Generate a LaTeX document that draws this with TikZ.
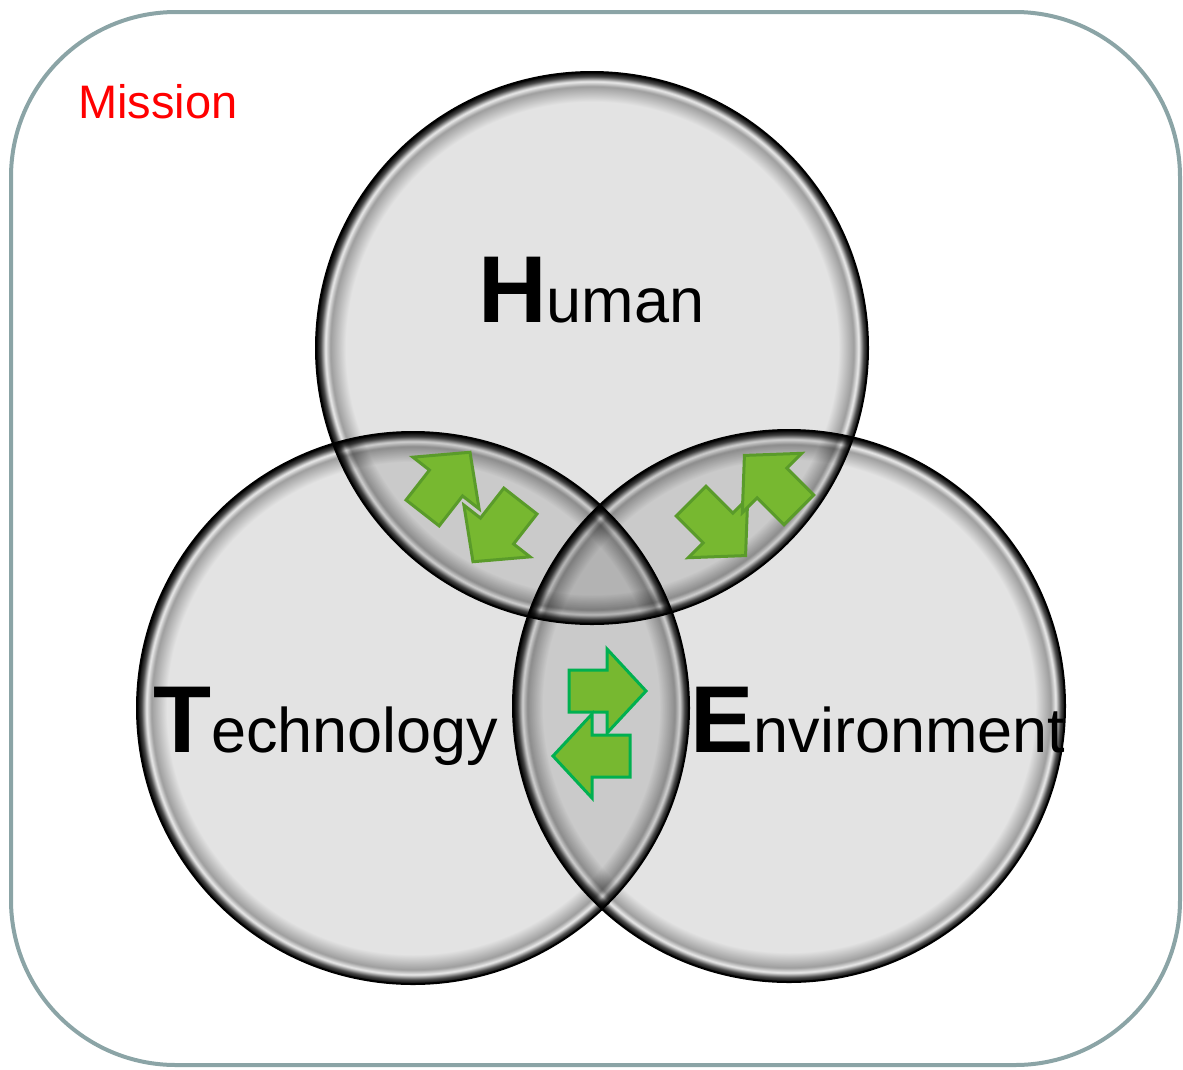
\documentclass[tikz,border=0pt]{standalone}
\usepackage{fontspec}
\setmainfont{Liberation Sans}
\usepackage{tikz}

\definecolor{framegray}{RGB}{139,164,166}
\definecolor{bubblegray}{gray}{0.89}
\definecolor{leafgreen}{RGB}{119,184,48}
\definecolor{darkleaf}{RGB}{90,155,42}
\definecolor{brightleaf}{RGB}{0,176,80}

\pgfdeclareradialshading{bubble}{\pgfpoint{0bp}{0bp}}{%
  color(0bp)=(bubblegray); color(22.3bp)=(bubblegray); color(23.7bp)=(black!38);
  color(24.15bp)=(white!92!black); color(24.6bp)=(black!72);
  color(25bp)=(black); color(50bp)=(black)}

\newcommand{\initial}[1]{{\fontsize{95}{95}\selectfont\bfseries #1}}
\newcommand{\swaparrow}[3][]{%
  \begin{scope}[shift={#2},rotate=#3]
    \draw[#1] (-38,-21) -- (0,-21) -- (0,-42) -- (39,0) -- (0,42) -- (0,21) -- (-38,21) -- cycle;
  \end{scope}}

\tikzset{
  word/.style={anchor=base west, inner sep=0, font=\fontsize{63}{63}\selectfont},
  toparrow/.style={fill=leafgreen, draw=darkleaf, line width=3, line join=miter},
  lowarrow/.style={fill=leafgreen, draw=brightleaf, line width=3, line join=miter}
}

\begin{document}
\begin{tikzpicture}[x=1pt,y=-1pt]
\useasboundingbox (0,0) rectangle (1183,1069);
\draw[framegray, line width=4, rounded corners=165] (11,12) rectangle (1180,1065);
% the three bubbles
\begin{scope}[blend mode=multiply]
\shade[shading=bubble] (592,348) circle[radius=276];
\shade[shading=bubble] (413,708) circle[radius=276];
\shade[shading=bubble] (789,706) circle[radius=276];
\end{scope}
\draw[line width=2] (592,348) circle[radius=276];
\draw[line width=2] (413,708) circle[radius=276];
\draw[line width=2] (789,706) circle[radius=276];
% labels
\node[anchor=base west, inner sep=0, text=red, font=\fontsize{47}{47}\selectfont] (mission) at (78,118) {Mission};
\node[word] (human) at (478,322) {\initial{H}uman};
\node[word] (technology) at (153,752) {\initial{T}echnology};
\node[word] (environment) at (690,752) {\initial{E}nvironment};
% exchange arrows
\swaparrow[toparrow]{(446,483)}{52}
\swaparrow[toparrow]{(497,531)}{232}
\swaparrow[toparrow]{(718,528)}{-45}
\swaparrow[toparrow]{(772,483)}{135}
\swaparrow[lowarrow]{(607,691)}{0}
\swaparrow[lowarrow]{(592,756)}{180}
\end{tikzpicture}
\end{document}
